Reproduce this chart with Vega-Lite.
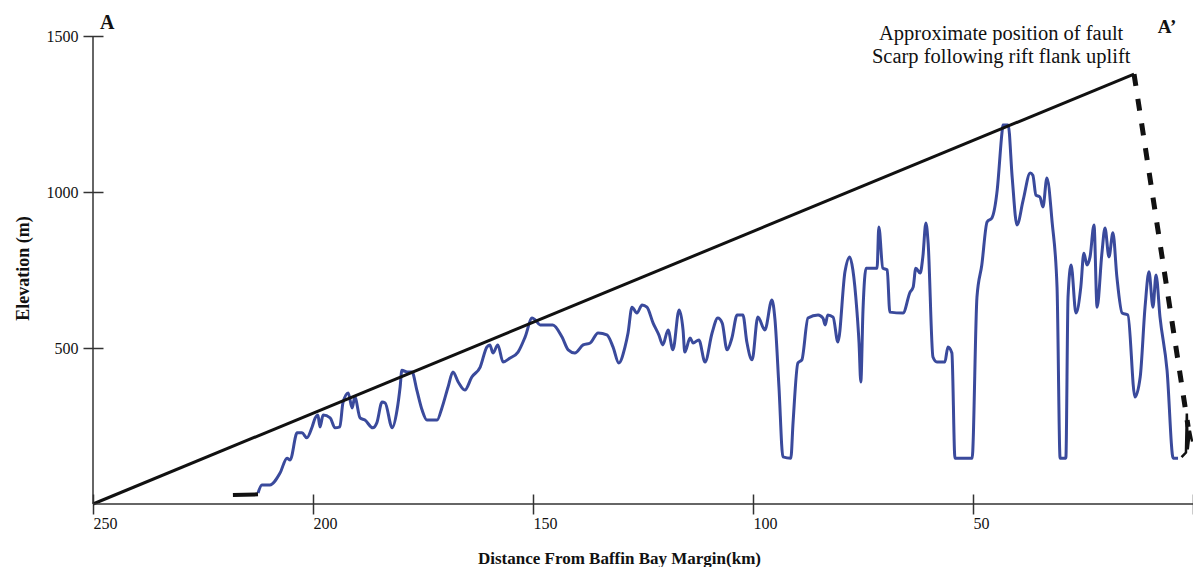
{
  "$schema": "https://vega.github.io/schema/vega-lite/v6.json",
  "width": 1100,
  "height": 468,
  "autosize": {"type": "none"},
  "padding": {"left": 93, "top": 36, "right": 0, "bottom": 63},
  "background": "white",
  "config": {
    "view": {"stroke": null},
    "font": "Liberation Serif"
  },
  "datasets": {
    "profile": [
      {"km":212.5,"elev":35},{"km":211.6,"elev":61},{"km":209.8,"elev":61},{"km":207.5,"elev":99},{"km":205.9,"elev":147},{"km":205.2,"elev":141},{"km":203.6,"elev":228},{"km":202.5,"elev":228},{"km":201.4,"elev":212},{"km":200.2,"elev":247},{"km":199.5,"elev":276},{"km":198.9,"elev":285},{"km":198.4,"elev":247},{"km":197.7,"elev":285},{"km":196.1,"elev":276},{"km":195,"elev":244},{"km":193.9,"elev":247},{"km":193.2,"elev":324},{"km":192,"elev":356},{"km":191.1,"elev":308},{"km":190.5,"elev":343},{"km":189.3,"elev":276},{"km":188.2,"elev":269},{"km":186.4,"elev":244},{"km":185.5,"elev":260},{"km":184.3,"elev":327},{"km":183.6,"elev":324},{"km":182,"elev":244},{"km":180.9,"elev":301},{"km":180.2,"elev":375},{"km":179.8,"elev":429},{"km":178.6,"elev":423},{"km":177.5,"elev":423},{"km":176.4,"elev":365},{"km":175.2,"elev":301},{"km":174.1,"elev":269},{"km":171.8,"elev":269},{"km":170.7,"elev":308},{"km":169.3,"elev":375},{"km":168.2,"elev":423},{"km":167,"elev":391},{"km":165.5,"elev":365},{"km":163.9,"elev":407},{"km":162,"elev":439},{"km":160.5,"elev":503},{"km":159.8,"elev":510},{"km":159.1,"elev":484},{"km":158,"elev":510},{"km":156.8,"elev":455},{"km":155.2,"elev":468},{"km":153.4,"elev":487},{"km":151.8,"elev":535},{"km":150.2,"elev":596},{"km":149.5,"elev":590},{"km":148.4,"elev":574},{"km":145.5,"elev":574},{"km":143.4,"elev":535},{"km":142,"elev":494},{"km":140.5,"elev":484},{"km":138.6,"elev":510},{"km":137,"elev":516},{"km":135.2,"elev":548},{"km":133.2,"elev":542},{"km":131.8,"elev":503},{"km":130.5,"elev":452},{"km":129.1,"elev":503},{"km":128.4,"elev":548},{"km":127.5,"elev":631},{"km":126.4,"elev":612},{"km":125.2,"elev":638},{"km":124.1,"elev":631},{"km":122.7,"elev":580},{"km":121.4,"elev":542},{"km":120.5,"elev":510},{"km":119.3,"elev":558},{"km":118.2,"elev":494},{"km":116.8,"elev":622},{"km":115.9,"elev":558},{"km":115.5,"elev":487},{"km":114.3,"elev":532},{"km":113.6,"elev":516},{"km":112.3,"elev":526},{"km":110.9,"elev":455},{"km":109.3,"elev":548},{"km":108,"elev":596},{"km":107,"elev":580},{"km":105.9,"elev":494},{"km":104.8,"elev":532},{"km":103.6,"elev":606},{"km":102.3,"elev":606},{"km":101.4,"elev":519},{"km":100.2,"elev":462},{"km":98.9,"elev":599},{"km":97.3,"elev":558},{"km":95.7,"elev":654},{"km":95,"elev":590},{"km":94.1,"elev":375},{"km":93.2,"elev":151},{"km":91.4,"elev":147},{"km":90.9,"elev":260},{"km":89.8,"elev":452},{"km":88.9,"elev":462},{"km":87.5,"elev":596},{"km":85.2,"elev":606},{"km":84.1,"elev":596},{"km":83.6,"elev":574},{"km":83,"elev":606},{"km":81.8,"elev":599},{"km":80.7,"elev":519},{"km":79.1,"elev":744},{"km":78,"elev":792},{"km":77.3,"elev":750},{"km":76.4,"elev":622},{"km":75.9,"elev":516},{"km":75.5,"elev":391},{"km":75,"elev":622},{"km":74.3,"elev":756},{"km":71.8,"elev":756},{"km":71.4,"elev":888},{"km":70.5,"elev":756},{"km":69.5,"elev":750},{"km":68.9,"elev":615},{"km":65.9,"elev":612},{"km":64.3,"elev":679},{"km":63.6,"elev":695},{"km":63,"elev":756},{"km":62,"elev":740},{"km":61.4,"elev":792},{"km":60.7,"elev":901},{"km":60.2,"elev":837},{"km":59.1,"elev":471},{"km":58.2,"elev":455},{"km":56.4,"elev":455},{"km":55.7,"elev":503},{"km":54.8,"elev":484},{"km":54.1,"elev":147},{"km":50.2,"elev":147},{"km":49.1,"elev":663},{"km":48,"elev":766},{"km":46.8,"elev":904},{"km":45.7,"elev":917},{"km":44.5,"elev":1006},{"km":43.4,"elev":1192},{"km":43.2,"elev":1215},{"km":42,"elev":1215},{"km":41.1,"elev":1048},{"km":40,"elev":894},{"km":38.6,"elev":974},{"km":37,"elev":1061},{"km":36.4,"elev":1054},{"km":35.7,"elev":990},{"km":34.8,"elev":984},{"km":34.1,"elev":952},{"km":33.2,"elev":1045},{"km":32,"elev":901},{"km":30.9,"elev":695},{"km":30.2,"elev":147},{"km":28.9,"elev":147},{"km":28.4,"elev":663},{"km":27.7,"elev":766},{"km":26.6,"elev":612},{"km":25.5,"elev":695},{"km":24.8,"elev":804},{"km":24.1,"elev":766},{"km":23.4,"elev":792},{"km":22.5,"elev":894},{"km":21.8,"elev":631},{"km":20.7,"elev":804},{"km":20,"elev":885},{"km":19.1,"elev":792},{"km":18.2,"elev":869},{"km":17.3,"elev":728},{"km":16.1,"elev":612},{"km":14.8,"elev":606},{"km":13.2,"elev":343},{"km":12,"elev":407},{"km":10.9,"elev":631},{"km":10,"elev":744},{"km":9.1,"elev":631},{"km":8.4,"elev":734},{"km":7.5,"elev":599},{"km":5.9,"elev":429},{"km":4.5,"elev":147},{"km":3.4,"elev":147}
    ],
    "start": [{"km":218.2,"elev":29},{"km":212.5,"elev":31}],
    "marker": [{"km":2.6,"elev":150},{"km":1.6,"elev":165},{"km":1.4,"elev":290},{"km":1.2,"elev":175},{"km":0.7,"elev":235},{"km":0.2,"elev":200}],
    "envelope": [{"km":250,"elev":0},{"km":13.4,"elev":1378}],
    "fault": [{"km":13.4,"elev":1378},{"km":1.1,"elev":247}]
  },
  "layer": [
    {
      "data": {"name": "profile"},
      "mark": {"type": "line", "color": "#3a4a9c", "strokeWidth": 3, "strokeJoin": "round", "interpolate": "monotone", "clip": false},
      "encoding": {
        "order": {"field": "km", "sort": "descending"},
        "x": {
          "field": "km", "type": "quantitative",
          "scale": {"domain": [0, 250], "reverse": true, "nice": false, "zero": false},
          "axis": {
            "values": [250, 200, 150, 100, 50, 0],
            "format": "d",
            "domain": false,
            "grid": false,
            "offset": -10,
            "tickSize": 20,
            "tickColor": "#333",
            "tickWidth": 1.5,
            "labelAlign": "left",
            "labelBaseline": "top",
            "labelPadding": 1,
            "labelFont": "Liberation Serif",
            "labelFontSize": 16,
            "labelColor": "#111",
            "labelFlush": false,
            "labelOverlap": false,
            "title": "Distance From Baffin Bay Margin(km)",
            "titleFont": "Liberation Serif",
            "titleFontSize": 17,
            "titleFontWeight": "bold",
            "titleColor": "#111",
            "titleX": 526,
            "titleY": 69,
            "titleBaseline": "alphabetic"
          }
        },
        "y": {
          "field": "elev", "type": "quantitative",
          "scale": {"domain": [0, 1500], "nice": false},
          "axis": {
            "values": [500, 1000, 1500],
            "format": "d",
            "domain": false,
            "grid": false,
            "offset": -10,
            "tickSize": 20,
            "tickColor": "#333",
            "tickWidth": 1.5,
            "labelPadding": 5,
            "labelFont": "Liberation Serif",
            "labelFontSize": 16,
            "labelColor": "#111",
            "labelFlush": false,
            "labelOverlap": false,
            "title": "Elevation (m)",
            "titleFont": "Liberation Serif",
            "titleFontSize": 18,
            "titleFontWeight": "bold",
            "titleColor": "#111",
            "titleX": -75,
            "titleY": 232,
            "titleBaseline": "alphabetic"
          }
        }
      }
    },
    {
      "data": {"name": "start"},
      "mark": {"type": "line", "color": "#111", "strokeWidth": 4},
      "encoding": {"x": {"field": "km", "type": "quantitative"}, "y": {"field": "elev", "type": "quantitative"}}
    },
    {
      "data": {"name": "marker"},
      "mark": {"type": "line", "color": "#111", "strokeWidth": 2.5, "clip": false},
      "encoding": {"x": {"field": "km", "type": "quantitative"}, "y": {"field": "elev", "type": "quantitative"}}
    },
    {
      "data": {"name": "envelope"},
      "mark": {"type": "line", "color": "#111", "strokeWidth": 3},
      "encoding": {"x": {"field": "km", "type": "quantitative"}, "y": {"field": "elev", "type": "quantitative"}}
    },
    {
      "data": {"name": "fault"},
      "mark": {"type": "line", "color": "#111", "strokeWidth": 5, "strokeDash": [12, 13]},
      "encoding": {"x": {"field": "km", "type": "quantitative"}, "y": {"field": "elev", "type": "quantitative"}}
    },
    {
      "data": {"values": [{}]},
      "mark": {"type": "rule", "color": "#333", "strokeWidth": 1.5},
      "encoding": {"x": {"datum": 250}, "x2": {"datum": 0}, "y": {"datum": 0}}
    },
    {
      "data": {"values": [{}]},
      "mark": {"type": "rule", "color": "#333", "strokeWidth": 1.5},
      "encoding": {"x": {"datum": 250}, "y": {"datum": 0}, "y2": {"datum": 1500}}
    },
    {
      "data": {"values": [{}]},
      "mark": {"type": "text", "text": "A", "font": "Liberation Serif", "fontSize": 20, "fontWeight": "bold", "align": "left", "baseline": "alphabetic", "color": "#111"},
      "encoding": {"x": {"datum": 248.4}, "y": {"datum": 1522}}
    },
    {
      "data": {"values": [{}]},
      "mark": {"type": "text", "text": "A’", "font": "Liberation Serif", "fontSize": 19, "fontWeight": "bold", "align": "left", "baseline": "alphabetic", "color": "#111"},
      "encoding": {"x": {"datum": 8}, "y": {"datum": 1510}}
    },
    {
      "data": {"values": [{}]},
      "mark": {"type": "text", "text": ["Approximate position of fault", "Scarp following rift flank uplift"], "lineHeight": 23, "font": "Liberation Serif", "fontSize": 20.5, "align": "center", "baseline": "alphabetic", "color": "#111"},
      "encoding": {"x": {"datum": 43.6}, "y": {"datum": 1487}}
    }
  ]
}
